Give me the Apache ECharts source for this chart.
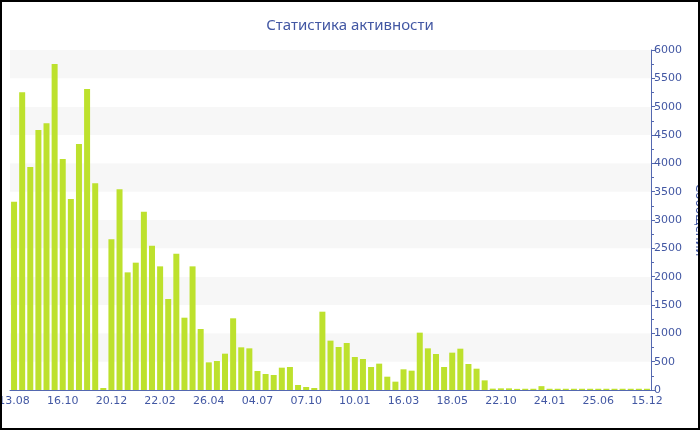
<!DOCTYPE html>
<html>
<head>
<meta charset="utf-8">
<script src="https://cdn.jsdelivr.net/npm/echarts@6/dist/echarts.min.js"></script>
<style>
  html, body { margin: 0; padding: 0; background: #fff; }
  #wrap { position: relative; width: 700px; height: 430px; }
  #chart { width: 700px; height: 430px; }
  #frame { position: absolute; left: 0; top: 0; width: 700px; height: 430px; box-sizing: border-box; border: 2px solid #000; pointer-events: none; }
</style>
</head>
<body>
<div id="wrap"><div id="chart"></div><div id="frame"></div></div>
<script>
const titleText = 'Статистика активности';
const yAxisName = 'Сообщений';
const tickLabels = ['13.08', '16.10', '20.12', '22.02', '26.04', '04.07', '07.10', '10.01', '16.03', '18.05', '22.10', '24.01', '25.06', '15.12'];
const labelStep = 6;
const messages = [
  3323, 5253, 3935, 4588, 4706, 5753, 4076, 3370, 4341, 5312,
  3647, 35, 2659, 3541, 2076, 2247, 3147, 2547, 2182, 1606,
  2406, 1276, 2182, 1076, 488, 512, 641, 1265, 753, 735,
  335, 282, 265, 394, 406, 88, 53, 35, 1382, 871,
  759, 829, 582, 547, 406, 465, 235, 147, 365, 341,
  1012, 735, 635, 406, 659, 729, 459, 376, 170, 24,
  29, 29, 20, 22, 22, 68, 22, 22, 22, 22,
  22, 22, 22, 22, 22, 22, 22, 22, 22
];
const categories = messages.map((v, i) => (i % labelStep === 0 ? (tickLabels[i / labelStep] || '') : ''));

const txt = '#4257a3';
const axisCol = '#5468b0';
const font = 'DejaVu Sans';

const chart = echarts.init(document.getElementById('chart'), null, { renderer: 'canvas' });
chart.setOption({
  animation: false,
  backgroundColor: '#ffffff',
  title: {
    text: titleText,
    left: 'center',
    top: 13,
    textStyle: { color: txt, fontFamily: 'Noto Sans', fontSize: 15, fontWeight: 'normal' }
  },
  grid: { left: 10, right: 49, top: 50, bottom: 40, containLabel: false, outerBoundsMode: 'none' },
  xAxis: {
    type: 'category',
    data: categories,
    boundaryGap: true,
    axisLine: { lineStyle: { color: axisCol, width: 1 } },
    axisTick: { alignWithLabel: true, interval: labelStep - 1, length: 4, lineStyle: { color: axisCol } },
    axisLabel: { interval: labelStep - 1, color: txt, fontFamily: font, fontSize: 11, margin: 6, hideOverlap: false },
    splitLine: { show: false }
  },
  yAxis: {
    type: 'value',
    position: 'right',
    min: 0,
    max: 6000,
    interval: 500,
    name: yAxisName,
    nameLocation: 'middle',
    nameGap: 39,
    nameRotate: -90,
    nameTextStyle: { color: txt, fontFamily: font, fontSize: 12 },
    nameTruncate: { maxWidth: null },
    axisLine: { show: true, lineStyle: { color: axisCol, width: 1 } },
    axisTick: { show: true, length: 4, lineStyle: { color: axisCol } },
    minorTick: { show: true, splitNumber: 2, length: 3, lineStyle: { color: axisCol } },
    axisLabel: { color: txt, fontFamily: font, fontSize: 11, margin: 3, formatter: (v) => String(v) },
    splitLine: { show: false },
    splitArea: { show: true, areaStyle: { color: ['#ffffff', '#f7f7f7'] } }
  },
  series: [{
    type: 'bar',
    data: messages,
    barWidth: 6,
    itemStyle: { color: '#bde12d' }
  }]
});
</script>
</body>
</html>
